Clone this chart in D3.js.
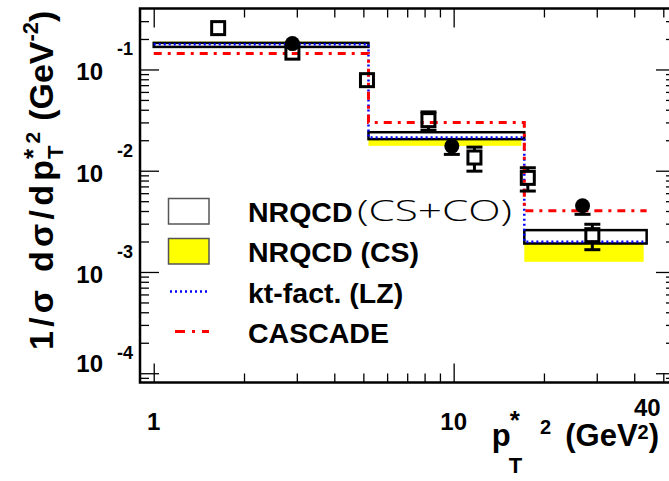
<!DOCTYPE html>
<html>
<head>
<meta charset="utf-8">
<script src="https://cdn.jsdelivr.net/npm/d3@7"></script>
<style>
  body { margin: 0; background: #fff; }
  text { font-family: "Liberation Sans", Arial, sans-serif; font-weight: bold; fill: #000; }
</style>
</head>
<body>
<div id="chart-area"></div>
<script>
// bins in pT*^2 (GeV^2)
const binEdges = [1, 5.2, 17.2, 44];
const nrqcdCsCoLow = [0.167, 0.0205, 0.00191];
const nrqcdCsCoHigh = [0.183, 0.0240, 0.00259];
const nrqcdCsLow = [0.172, 0.0176, 0.00126];
const nrqcdCsHigh = [0.188, 0.0225, 0.0024];
const ktFactLZ = [0.177, 0.0213, 0.00199];
const cascade = [0.144, 0.030, 0.00402];

// data points
const squareX = [1.64, 2.90, 5.14, 8.24, 11.73, 17.67, 29.0];
const squareY = [0.256, 0.1466, 0.0784, 0.0316, 0.0135, 0.0085, 0.00231];
const squareErr = [0.01, 0.012, 0.006, 0.0065, 0.0036, 0.0022, 0.00065];
const circleX = [2.90, 9.86, 26.9];
const circleY = [0.18, 0.0175, 0.00451];
const circleErr = [0.012, 0.003, 0.0008];

const xMajor = [1, 10];
const xMinor = [2, 3, 4, 5, 6, 7, 8, 9, 20, 30, 40, 50];
const xLabels = [{v: 1, t: "1"}, {v: 10, t: "10"}, {v: 40, t: "40"}];
const yDecades = [-1, -2, -3, -4];

const legendLabels = ["NRQCD", "NRQCD (CS)", "kt-fact. (LZ)", "CASCADE"];

const width = 669, height = 481;
const frame = {left: 140, top: 8.5, right: 675, bottom: 382.5};

const svg = d3.select("#chart-area").append("svg")
    .attr("width", width)
    .attr("height", height);

const x = d3.scaleLog().domain([0.9, 54.7]).range([frame.left, frame.right]);
const y = d3.scaleLog().domain([8.1e-5, 0.4]).range([frame.bottom, frame.top]);

const yMajor = yDecades.map((d) => Math.pow(10, d));
const yMinor = [];
[-5, -4, -3, -2, -1].forEach((e) => {
  for (let m = 2; m <= 9; m++) {
    const v = m * Math.pow(10, e);
    if (v > 8.1e-5 && v < 0.4) yMinor.push(v);
  }
});

const plot = svg.append("g");

// NRQCD (CS) yellow bands
plot.selectAll(".cs").data(d3.range(3)).enter().append("rect")
    .attr("x", (i) => x(binEdges[i]))
    .attr("width", (i) => x(binEdges[i + 1]) - x(binEdges[i]) - 3)
    .attr("y", (i) => y(nrqcdCsHigh[i]))
    .attr("height", (i) => y(nrqcdCsLow[i]) - y(nrqcdCsHigh[i]))
    .attr("fill", "#ffff00");

// NRQCD (CS+CO) boxes
plot.selectAll(".csco").data(d3.range(3)).enter().append("rect")
    .attr("x", (i) => x(binEdges[i]))
    .attr("width", (i) => x(binEdges[i + 1]) - x(binEdges[i]))
    .attr("y", (i) => y(nrqcdCsCoHigh[i]))
    .attr("height", (i) => y(nrqcdCsCoLow[i]) - y(nrqcdCsCoHigh[i]))
    .attr("fill", "#fff")
    .attr("stroke", "#000")
    .attr("stroke-width", 2.5);

function stepPath(vals) {
  let p = "";
  vals.forEach((v, i) => {
    p += (i === 0 ? "M" : "L") + x(binEdges[i]) + "," + y(v);
    p += "L" + x(binEdges[i + 1]) + "," + y(v);
  });
  return p;
}

plot.append("path")
    .attr("d", stepPath(ktFactLZ))
    .attr("fill", "none")
    .attr("stroke", "#0000ff")
    .attr("stroke-width", 2.5)
    .attr("stroke-dasharray", "2,3");

plot.append("path")
    .attr("d", stepPath(cascade))
    .attr("fill", "none")
    .attr("stroke", "#ff0000")
    .attr("stroke-width", 3)
    .attr("stroke-dasharray", "8,6,3,6");

// error bars, drawn outside the marker only
function errorBars(xs, ys, errs, half) {
  xs.forEach((xv, i) => {
    const cx = x(xv), cy = y(ys[i]);
    const yHi = y(ys[i] + errs[i]), yLo = y(ys[i] - errs[i]);
    if (cy - yHi > half) {
      plot.append("line").attr("x1", cx).attr("x2", cx).attr("y1", cy - half).attr("y2", yHi)
          .attr("stroke", "#000").attr("stroke-width", 3);
      plot.append("line").attr("x1", cx - 8).attr("x2", cx + 8).attr("y1", yHi).attr("y2", yHi)
          .attr("stroke", "#000").attr("stroke-width", 3);
    }
    if (yLo - cy > half) {
      plot.append("line").attr("x1", cx).attr("x2", cx).attr("y1", cy + half).attr("y2", yLo)
          .attr("stroke", "#000").attr("stroke-width", 3);
      plot.append("line").attr("x1", cx - 8).attr("x2", cx + 8).attr("y1", yLo).attr("y2", yLo)
          .attr("stroke", "#000").attr("stroke-width", 3);
    }
  });
}

errorBars(squareX, squareY, squareErr, 6.5);
plot.selectAll(".sq").data(squareX).enter().append("rect")
    .attr("x", (d) => x(d) - 6.5)
    .attr("y", (d, i) => y(squareY[i]) - 6.5)
    .attr("width", 13)
    .attr("height", 13)
    .attr("fill", "none")
    .attr("stroke", "#000")
    .attr("stroke-width", 3);

errorBars(circleX, circleY, circleErr, 7.5);
plot.selectAll(".dot").data(circleX).enter().append("circle")
    .attr("cx", (d) => x(d))
    .attr("cy", (d, i) => y(circleY[i]))
    .attr("r", 7.5)
    .attr("fill", "#000");

// ticks on all four sides, pointing inwards
const axes = svg.append("g").attr("class", "axes");
function tickAxis(axisFn, scale, vals, len, transform) {
  const a = axisFn(scale).tickValues(vals).tickSize(-len).tickFormat("");
  const g = axes.append("g").attr("transform", transform).call(a);
  g.select(".domain").remove();
  g.selectAll("line").attr("stroke", "#000").attr("stroke-width", 1.3);
}
tickAxis(d3.axisBottom, x, xMajor, 19, "translate(0," + frame.bottom + ")");
tickAxis(d3.axisBottom, x, xMinor, 9, "translate(0," + frame.bottom + ")");
tickAxis(d3.axisTop, x, xMajor, 19, "translate(0," + frame.top + ")");
tickAxis(d3.axisTop, x, xMinor, 9, "translate(0," + frame.top + ")");
tickAxis(d3.axisLeft, y, yMajor, 19, "translate(" + frame.left + ",0)");
tickAxis(d3.axisLeft, y, yMinor, 9, "translate(" + frame.left + ",0)");
tickAxis(d3.axisRight, y, yMajor, 19, "translate(" + frame.right + ",0)");
tickAxis(d3.axisRight, y, yMinor, 9, "translate(" + frame.right + ",0)");

svg.append("rect")
    .attr("x", frame.left).attr("y", frame.top)
    .attr("width", frame.right - frame.left)
    .attr("height", frame.bottom - frame.top)
    .attr("fill", "none")
    .attr("stroke", "#000")
    .attr("stroke-width", 2.5);

// y tick labels 10^n
yDecades.forEach((d) => {
  const v = Math.pow(10, d);
  const base = d === -4 ? -1 : 11;
  svg.append("text")
      .attr("x", 103).attr("y", y(v) + base)
      .attr("text-anchor", "end")
      .attr("font-size", 24)
      .text("10");
  svg.append("text")
      .attr("x", 133).attr("y", y(v) - 14)
      .attr("text-anchor", "end")
      .attr("font-size", 18)
      .text(d);
});

// x tick labels
xLabels.forEach((l) => {
  svg.append("text")
      .attr("x", l.v === 40 ? x(l.v) + 13 : x(l.v))
      .attr("y", l.v === 40 ? 416 : 430)
      .attr("text-anchor", "middle")
      .attr("font-size", 24)
      .text(l.t);
});

// text made of pieces with super/subscripts
function richText(g, parts) {
  let cx = 0;
  parts.forEach((p) => {
    const t = g.append("text")
        .attr("x", cx + (p.dx || 0))
        .attr("y", p.dy || 0)
        .attr("font-size", p.size)
        .text(p.text);
    if (p.len) t.attr("textLength", p.len).attr("lengthAdjust", "spacing");
    const w = p.len || t.node().getComputedTextLength();
    if (!p.stack) cx += w + (p.dx || 0);
  });
}

const yTitle = svg.append("g").attr("transform", "translate(53,350) rotate(-90)");
richText(yTitle, [
  {text: "1/\u03c3 d\u03c3/dp", size: 34, len: 190},
  {text: "*", size: 26, dy: -11, dx: 1, stack: true},
  {text: "T", size: 22, dy: 10, dx: 1},
  {text: "2", size: 21, dy: -13, dx: 2},
  {text: "(GeV", size: 34, dx: 11},
  {text: "-2", size: 22, dy: -15},
  {text: ")", size: 34}
]);

const xTitle = svg.append("g").attr("transform", "translate(491.7,446)");
richText(xTitle, [
  {text: "p", size: 31},
  {text: "*", size: 26, dy: -17, dx: -1, stack: true},
  {text: "T", size: 22, dy: 27, dx: -2},
  {text: "2", size: 20, dy: -12, dx: 18},
  {text: "(GeV", size: 31, dx: 14},
  {text: "2", size: 20, dy: -7},
  {text: ")", size: 31}
]);

// legend
const leg = svg.append("g");
leg.append("rect").attr("x", 168.5).attr("y", 198.5).attr("width", 40.5).attr("height", 25.5)
    .attr("fill", "#fff").attr("stroke", "#555").attr("stroke-width", 1.5);
leg.append("rect").attr("x", 168.5).attr("y", 238.5).attr("width", 40.5).attr("height", 25.5)
    .attr("fill", "#ffff00").attr("stroke", "#555").attr("stroke-width", 1.5);
leg.append("line").attr("x1", 170).attr("x2", 209).attr("y1", 291.5).attr("y2", 291.5)
    .attr("stroke", "#0000ff").attr("stroke-width", 2.5).attr("stroke-dasharray", "2,3");
leg.append("line").attr("x1", 175).attr("x2", 209).attr("y1", 331.5).attr("y2", 331.5)
    .attr("stroke", "#ff0000").attr("stroke-width", 3).attr("stroke-dasharray", "10,7,3,7");

legendLabels.forEach((t, i) => {
  leg.append("text")
      .attr("x", 248).attr("y", 222 + i * 40.3)
      .attr("font-size", 28.5)
      .text(t);
});
leg.append("text")
    .attr("x", 357).attr("y", 221)
    .attr("font-size", 29)
    .attr("textLength", 155)
    .attr("lengthAdjust", "spacingAndGlyphs")
    .style("font-family", "'Open Sans', 'DejaVu Sans', sans-serif")
    .style("font-weight", 300)
    .text("(CS+CO)");
</script>
</body>
</html>
